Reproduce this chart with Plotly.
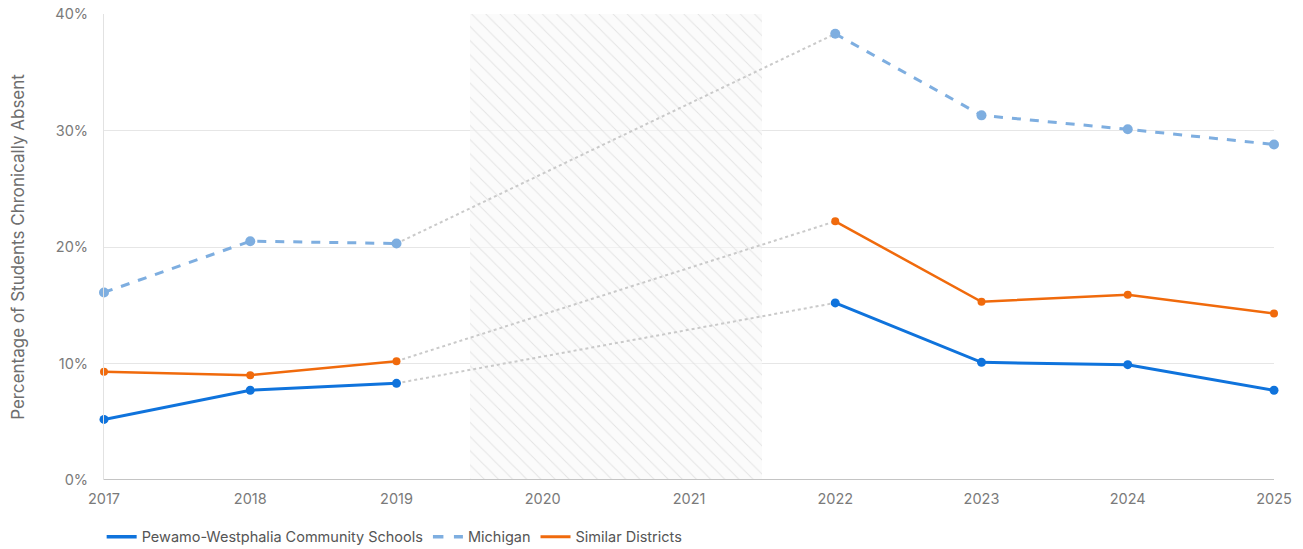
import plotly.graph_objects as go

years = [2017, 2018, 2019, 2020, 2021, 2022, 2023, 2024, 2025]
pewamo = [5.2, 7.7, 8.3, None, None, 15.2, 10.1, 9.9, 7.7]
michigan = [16.1, 20.5, 20.3, None, None, 38.3, 31.3, 30.1, 28.8]
similar = [9.3, 9.0, 10.2, None, None, 22.2, 15.3, 15.9, 14.3]
covid_years = [2020, 2021]
series_names = ["Pewamo-Westphalia Community Schools", "Michigan", "Similar Districts"]
tick_vals = [0, 10, 20, 30, 40]
tick_text = ["0%", "10%", "20%", "30%", "40%"]

FONT = "Inter, Lato, sans-serif"
GRAY_TXT = "#7a7a7a"

fig = go.Figure()

# hatched gap region (2019.5 - 2021.5)
fig.add_trace(go.Bar(
    x=[sum(covid_years) / 2], y=[40], width=[len(covid_years)],
    marker=dict(color="rgba(248,248,248,0.6)", line=dict(width=0),
                pattern=dict(shape="\\", fgcolor="#dedede", size=10, solidity=0.1, fgopacity=0.8)),
    showlegend=False, hoverinfo="skip",
))

def connector(vals):
    i0 = max(i for i, v in enumerate(vals[:5]) if v is not None)
    i1 = min(i for i, v in enumerate(vals) if v is None) + len([v for v in vals if v is None])
    return [years[i0], years[i1]], [vals[i0], vals[i1]]

for vals in (pewamo, michigan, similar):
    cx, cy = connector(vals)
    fig.add_trace(go.Scatter(x=cx, y=cy, mode="lines", showlegend=False, hoverinfo="skip",
                             line=dict(color="#cacaca", width=2, dash="dot")))

styles = [
    dict(color="#0f73dc", width=3, dash="solid", msize=9),
    dict(color="#7eaee0", width=3, dash="dash", msize=10),
    dict(color="#f06a0c", width=2.5, dash="solid", msize=8),
]
for name, vals, st in zip(series_names, (pewamo, michigan, similar), styles):
    fig.add_trace(go.Scatter(
        x=years, y=vals, name=name, mode="lines+markers", connectgaps=False, cliponaxis=False,
        line=dict(color=st["color"], width=st["width"], dash=st["dash"]),
        marker=dict(color=st["color"], size=st["msize"]), showlegend=False,
    ))
    # legend entry (line only)
    fig.add_trace(go.Scatter(
        x=[None], y=[None], name=name, mode="lines",
        line=dict(color=st["color"], width=st["width"] + 0.5, dash=st["dash"]),
    ))

fig.update_layout(
    width=1303, height=549,
    margin=dict(l=104, r=29, t=14, b=69, autoexpand=False),
    plot_bgcolor="white", paper_bgcolor="white",
    font=dict(family=FONT, color=GRAY_TXT, size=14),
    bargap=0,
    showlegend=True,
    legend=dict(orientation="h", x=-0.002, xanchor="left", y=-0.122, yanchor="middle",
                font=dict(size=14.5, color="#555555"), itemwidth=30, traceorder="normal"),
    xaxis=dict(range=[2017, 2025], tickmode="array", tickvals=years, ticktext=[str(y) for y in years],
               showgrid=False, zeroline=False, showline=False, ticks="", automargin=False,
               ticklabelstandoff=8,
               tickfont=dict(size=14.5, color=GRAY_TXT)),
    yaxis=dict(range=[0, 40], tickmode="array", tickvals=tick_vals, ticktext=tick_text,
               showgrid=True, gridcolor="#e6e6e6", gridwidth=1, zeroline=False,
               showline=True, linecolor="#e2e2e2", linewidth=1, ticks="", automargin=False,
               ticklabelstandoff=12, ticklabeloverflow="allow",
               tickfont=dict(size=14.5, color=GRAY_TXT),
               title=dict(text="Percentage of Students Chronically Absent", standoff=26,
                          font=dict(size=17, color="#6e6e6e"))),
)
fig.add_shape(type="line", xref="paper", yref="y", x0=0, x1=1, y0=0, y1=0,
              line=dict(color="#c4c4c4", width=2), layer="above")

fig.write_html("out.html", config={"displayModeBar": False},
               post_script="document.body.style.margin='0';")
